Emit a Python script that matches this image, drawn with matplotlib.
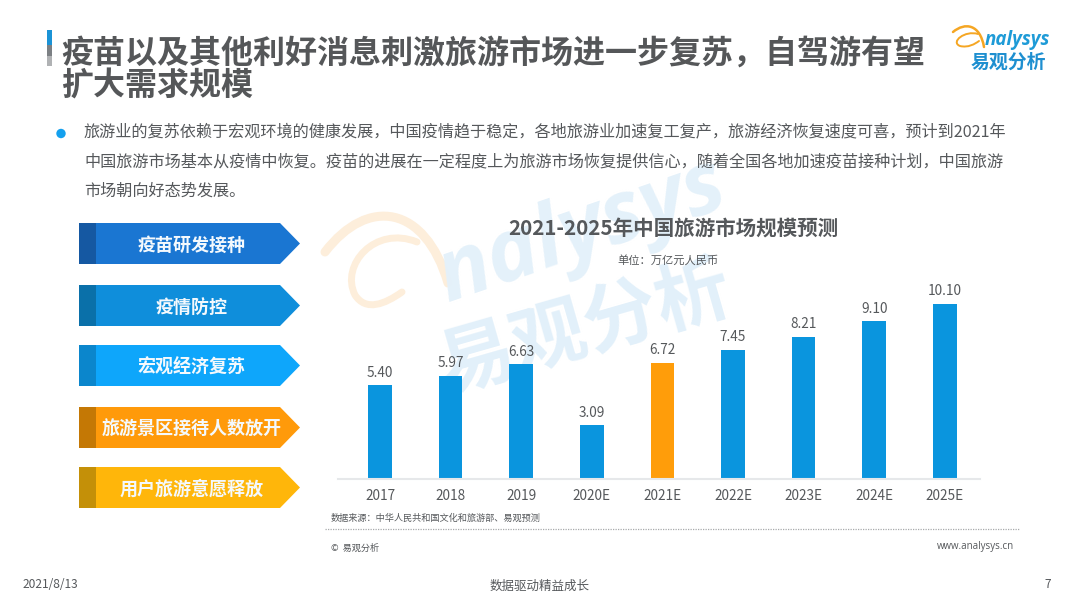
import matplotlib
matplotlib.use("Agg")
import matplotlib.pyplot as plt
from matplotlib.patches import Polygon, Rectangle, Circle, PathPatch
from matplotlib.path import Path

plt.rcParams['font.family'] = ['Noto Sans CJK SC', 'DejaVu Sans']

categories = ['2017', '2018', '2019', '2020E', '2021E', '2022E', '2023E', '2024E', '2025E']
values = [5.40, 5.97, 6.63, 3.09, 6.72, 7.45, 8.21, 9.10, 10.10]
labels = ['5.40', '5.97', '6.63', '3.09', '6.72', '7.45', '8.21', '9.10', '10.10']
bar_colors = ['#0a95de', '#0a95de', '#0a95de', '#0a95de', '#ff9d0a', '#0a95de', '#0a95de', '#0a95de', '#0a95de']

title_lines = ['疫苗以及其他利好消息刺激旅游市场进一步复苏，自驾游有望', '扩大需求规模']
body_lines = [
    '旅游业的复苏依赖于宏观环境的健康发展，中国疫情趋于稳定，各地旅游业加速复工复产，旅游经济恢复速度可喜，预计到2021年',
    '中国旅游市场基本从疫情中恢复。疫苗的进展在一定程度上为旅游市场恢复提供信心，随着全国各地加速疫苗接种计划，中国旅游',
    '市场朝向好态势发展。',
]
factor_names = ['疫苗研发接种', '疫情防控', '宏观经济复苏', '旅游景区接待人数放开', '用户旅游意愿释放']
factor_colors = ['#1a76d2', '#0f8edb', '#0ea6fb', '#ff9a0a', '#ffb60a']
factor_darks = ['#1558a2', '#0a70a9', '#0b86cc', '#c47805', '#c49008']
factor_tops = [223, 285, 345, 407, 467]

fig = plt.figure(figsize=(10.8, 6.08), dpi=100, facecolor='white')
bg = fig.add_axes([0, 0, 1, 1])
bg.set_xlim(0, 1080)
bg.set_ylim(608, 0)
bg.axis('off')

# Watermark (behind everything)
wm_orange = '#fdeedb'
swoosh = Path([(325, 252), (368, 196), (425, 205), (448, 283)],
              [Path.MOVETO, Path.CURVE4, Path.CURVE4, Path.CURVE4])
bg.add_patch(PathPatch(swoosh, fc='none', ec=wm_orange, lw=6.5, capstyle='round', zorder=0))
swoosh2 = Path([(417, 242), (375, 225), (340, 265), (355, 295), (366, 312), (385, 304), (402, 292)],
               [Path.MOVETO, Path.CURVE4, Path.CURVE4, Path.CURVE4, Path.CURVE4, Path.CURVE4, Path.CURVE4])
bg.add_patch(PathPatch(swoosh2, fc='none', ec=wm_orange, lw=5, capstyle='round', zorder=0))
bg.text(582, 232, 'nalysys', fontsize=62, fontstyle='italic', fontweight='bold', color='#e4f1fa',
        rotation=19, ha='center', va='center', family='Open Sans', rotation_mode='anchor', zorder=0)
bg.text(585, 328, '易观分析', fontsize=54, fontweight='bold', color='#e2f0fa', rotation=16, ha='center',
        va='center', rotation_mode='anchor', zorder=0)

# Title block
bg.add_patch(Rectangle((47, 30), 4.5, 15, color='#1b93d6', lw=0))
bg.add_patch(Rectangle((47, 45), 4.5, 11, color='#7c8084', lw=0))
bg.add_patch(Rectangle((47, 56), 4.5, 10, color='#b0b2b4', lw=0))
for y, line in zip([53, 86], title_lines):
    bg.text(61, y, line, fontsize=23.05, fontweight='bold', color='#555759', va='center', ha='left')

# Body text
bg.add_patch(Circle((61, 133.5), 4.7, color='#14a0ee', lw=0))
for y, line in zip([133, 162, 191], body_lines):
    bg.text(84, y, line, fontsize=11.63, color='#55585b', va='center', ha='left')

# Arrow list
for name, color, dark, top in zip(factor_names, factor_colors, factor_darks, factor_tops):
    h = 41
    bg.add_patch(Polygon([(79, top), (280, top), (300, top + h / 2), (280, top + h), (79, top + h)],
                         closed=True, fc=color, ec='none'))
    bg.add_patch(Rectangle((79, top), 17, h, fc=dark, ec='none'))
    bg.text(191.5, top + h / 2 + 1.5, name, fontsize=13, fontweight='bold', color='#f4f9fd',
            ha='center', va='center')

# Chart
left, right, top_px, base_px = 338, 980, 215, 479
ax = fig.add_axes([left / 1080, 1 - base_px / 608, (right - left) / 1080, (base_px - top_px) / 608])
ax.patch.set_alpha(0)
unit_px = 17.33
step_px = 70.6
ax.set_xlim((left - 380) / step_px, (right - 380) / step_px)
ax.set_ylim(0, (base_px - top_px) / unit_px)
positions = list(range(len(categories)))
ax.bar(positions, values, width=23.5 / step_px, color=bar_colors, linewidth=0)
for x, v, lab in zip(positions, values, labels):
    ax.annotate(lab, (x, v), xytext=(0, 4), textcoords='offset points', ha='center', va='bottom',
                fontsize=9.8, color='#55585b')
ax.set_xticks(positions)
ax.set_xticklabels(categories, fontsize=9.8, color='#55585b')
ax.set_yticks([])
ax.tick_params(axis='x', length=0, pad=7)
for s in ['top', 'left', 'right']:
    ax.spines[s].set_visible(False)
ax.spines['bottom'].set_color('#e6e8ea')
ax.spines['bottom'].set_linewidth(1.5)

bg.text(673, 228, '2021-2025年中国旅游市场规模预测', fontsize=14.8, fontweight='bold', color='#55585b',
        ha='center', va='center')
bg.text(668, 260, '单位：万亿元人民币', fontsize=8.1, color='#55585b', ha='center', va='center')

# Footer
bg.text(331, 518, '数据来源：中华人民共和国文化和旅游部、易观预测', fontsize=6.6, color='#55585b', va='center')
bg.plot([325, 1020], [528.5, 528.5], color='#a8aaac', lw=0.9, ls=(0, (1, 1)))
bg.text(331, 548, '©  易观分析', fontsize=6.6, color='#55585b', va='center')
bg.text(1014, 546, 'www.analysys.cn', fontsize=7.0, color='#55585b', va='center', ha='right',
        family='Open Sans')
bg.text(23, 585, '2021/8/13', fontsize=8.6, color='#55585b', va='center')
bg.text(540, 586, '数据驱动精益成长', fontsize=9, color='#55585b', va='center', ha='center')
bg.text(1048, 585, '7', fontsize=8.6, color='#55585b', va='center', ha='center')

# Logo
arc1 = Path([(953, 32), (965, 22), (980, 24), (984, 47)],
            [Path.MOVETO, Path.CURVE4, Path.CURVE4, Path.CURVE4])
bg.add_patch(PathPatch(arc1, fc='none', ec='#f5a623', lw=1.8, capstyle='round'))
arc2 = Path([(978, 34), (965, 30), (950, 42), (960, 46), (968, 48), (975, 44), (979, 41)],
            [Path.MOVETO, Path.CURVE4, Path.CURVE4, Path.CURVE4, Path.CURVE4, Path.CURVE4, Path.CURVE4])
bg.add_patch(PathPatch(arc2, fc='none', ec='#f5a623', lw=1.4, capstyle='round'))
bg.text(985, 40, 'nalysys', fontsize=13.5, fontstyle='italic', fontweight='bold', color='#1e9bd7',
        va='center', ha='left', family='Open Sans')
bg.text(1008, 62, '易观分析', fontsize=13.6, fontweight='bold', color='#1e8fd0', va='center', ha='center')

fig.savefig('out.png', dpi=100)
